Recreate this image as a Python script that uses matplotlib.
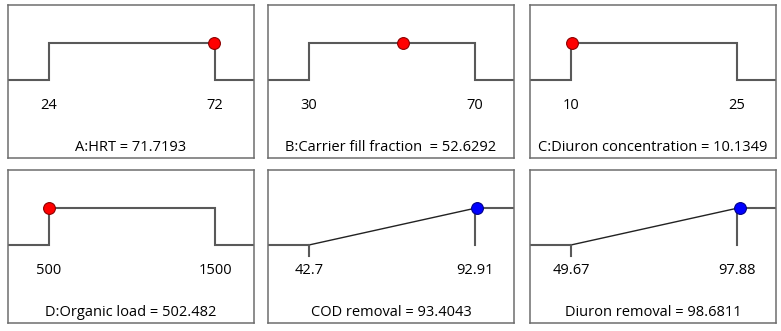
import matplotlib as mpl
import matplotlib.pyplot as plt

mpl.use('Agg')

# factor / response settings
nomes = ["A:HRT", "B:Carrier fill fraction ", "C:Diuron concentration", "D:Organic load",
         "COD removal", "Diuron removal"]
baixos = [24, 30, 10, 500, 42.7, 49.67]
altos = [72, 70, 25, 1500, 92.91, 97.88]
rotulos_baixo = ["24", "30", "10", "500", "42.7", "49.67"]
rotulos_alto = ["72", "70", "25", "1500", "92.91", "97.88"]
valores = [71.7193, 52.6292, 10.1349, 502.482, 93.4043, 98.6811]
tipos = ["fator", "fator", "fator", "fator", "resposta", "resposta"]

plt.rcParams['font.family'] = ['Open Sans', 'DejaVu Sans']

W, H = 781, 331
fig = plt.figure(figsize=(W / 100, H / 100), dpi=100)

esquerdas = [8, 268, 530]
topos = [5, 170]
larg, alt = 246, 153
f0, f1 = 41 / larg, 207 / larg
y_baixo, y_alto = 0.51, 0.75
cor_linha = "#595959"

for i in range(6):
    lin, col = divmod(i, 3)
    ax = fig.add_axes([esquerdas[col] / W, (H - topos[lin] - alt) / H, larg / W, alt / H])
    lo, hi = baixos[i], altos[i]
    span = (hi - lo) / (f1 - f0)
    xmin = lo - f0 * span
    xmax = xmin + span
    ax.set_xlim(xmin, xmax)
    ax.set_ylim(0, 1)
    if tipos[i] == "fator":
        ax.plot([xmin, lo, lo, hi, hi, xmax],
                [y_baixo, y_baixo, y_alto, y_alto, y_baixo, y_baixo],
                color=cor_linha, lw=1.5, solid_joinstyle='miter')
        ax.plot(valores[i], y_alto, 'o', ms=8.5, mfc='#ff0000', mec='#8b0000', mew=0.8,
                zorder=5)
    else:
        ax.plot([xmin, lo], [y_baixo, y_baixo], color=cor_linha, lw=1.5)
        ax.plot([lo, hi], [y_baixo, y_alto], color="#222222", lw=1.0)
        ax.plot([hi, xmax], [y_alto, y_alto], color=cor_linha, lw=1.5)
        ax.plot([lo, lo], [y_baixo, y_baixo - 0.07], color=cor_linha, lw=1.5)
        ax.plot([hi, hi], [y_alto, y_baixo], color=cor_linha, lw=1.5)
        ax.plot(valores[i], y_alto, 'o', ms=8.5, mfc='#0000ff', mec='#00008b', mew=0.8,
                zorder=5)
    ax.text(lo, 0.345, rotulos_baixo[i], ha='center', va='center', fontsize=10.5)
    ax.text(hi, 0.345, rotulos_alto[i], ha='center', va='center', fontsize=10.5)
    ax.text(0.5, 0.07, "%s = %s" % (nomes[i], valores[i]), transform=ax.transAxes,
            ha='center', va='center', fontsize=10.5)
    ax.set_xticks([])
    ax.set_yticks([])
    for s in ax.spines.values():
        s.set_color("#6e6e6e")
        s.set_linewidth(1.1)

plt.savefig("out.png", dpi=100)
